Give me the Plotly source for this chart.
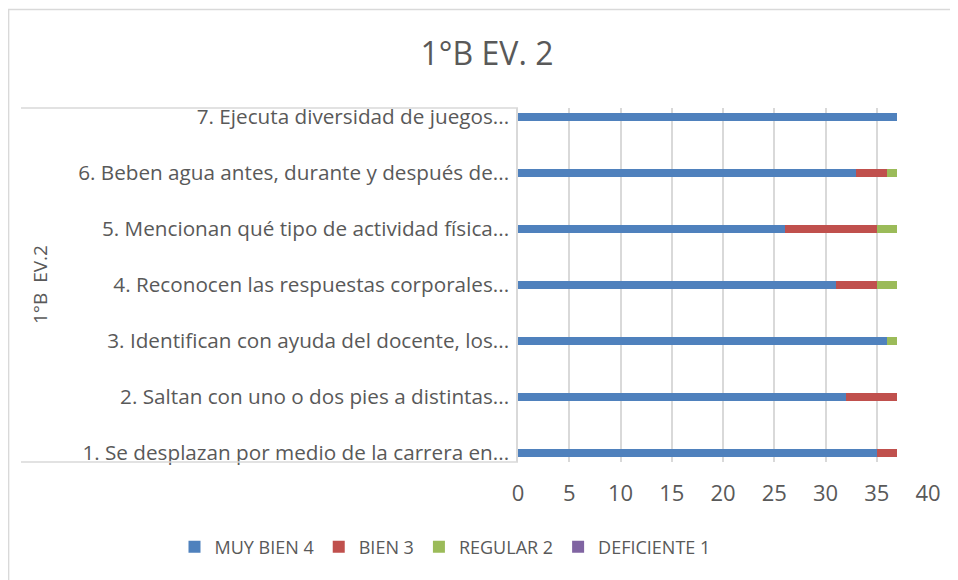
import plotly.graph_objects as go

categories = [
    "1. Se desplazan por medio de la carrera en...",
    "2. Saltan con uno o dos pies a distintas...",
    "3. Identifican con ayuda del docente, los...",
    "4. Reconocen las respuestas corporales...",
    "5. Mencionan qué tipo de actividad física...",
    "6. Beben agua antes, durante y después de...",
    "7. Ejecuta diversidad de juegos...",
]
muy_bien = [35, 32, 36, 31, 26, 33, 37]
bien = [2, 5, 0, 4, 9, 3, 0]
regular = [0, 0, 1, 2, 2, 1, 0]
deficiente = [0, 0, 0, 0, 0, 0, 0]

series_names = ["MUY BIEN 4", "BIEN 3", "REGULAR 2", "DEFICIENTE 1"]
series_values = [muy_bien, bien, regular, deficiente]
colors = ["#4F81BD", "#C0504D", "#9BBB59", "#8064A2"]

font_family = "'Open Sans', Lato, sans-serif"
grey = "#595959"
line_grey = "#D9D9D9"

# page body has an 8px margin, so the figure is drawn 8px smaller
W, H = 950, 572
plot_left, plot_right, plot_top, plot_bottom = 510, 920, 100, 454
pw = plot_right  # paper spans 0..plot_right (l=0)

fig = go.Figure()
for name, vals, col in zip(series_names, series_values, colors):
    fig.add_trace(go.Bar(
        y=categories, x=vals, name=name, orientation="h",
        marker=dict(color=col, line=dict(width=0)),
    ))

fig.update_layout(
    barmode="stack",
    bargap=0.86,
    width=W, height=H,
    margin=dict(l=0, r=W - plot_right, t=plot_top, b=H - plot_bottom, autoexpand=False),
    paper_bgcolor="white", plot_bgcolor="white",
    font=dict(family=font_family, color=grey, size=18),
    title=dict(text="1°B EV. 2", x=479 / W, xanchor="center",
               xref="container", yref="container",
               y=1 - 46 / H, yanchor="middle",
               font=dict(size=32, color=grey, family=font_family)),
    legend=dict(orientation="h", xref="container", yref="container",
                x=437 / W, xanchor="center", y=1 - 539 / H, yanchor="middle",
                font=dict(size=18, color=grey), itemwidth=30, traceorder="normal"),
    xaxis=dict(domain=[plot_left / pw, 1], range=[0, 40], dtick=5, showgrid=True,
               gridcolor=line_grey, gridwidth=1.5,
               zeroline=False, showline=False, ticks="", tickfont=dict(size=22, color=grey),
               fixedrange=True, automargin=False, ticklabelstandoff=16),
    yaxis=dict(categoryorder="array", categoryarray=categories, showgrid=False,
               range=[-0.16, 6.16],
               showline=True, linecolor=line_grey, linewidth=1.5, ticks="", ticklen=0,
               tickfont=dict(size=20.7, color=grey), automargin=False, ticklabelstandoff=3),
    showlegend=True,
)

fig.add_annotation(text="1°B  EV.2", xref="paper", yref="paper", x=32 / pw, y=0.5,
                   textangle=-90, showarrow=False, font=dict(size=19, color=grey),
                   xanchor="center", yanchor="middle")

# decorative multi-level category bracket lines and chart border
fig.add_shape(type="line", xref="paper", yref="paper", x0=13 / pw, x1=plot_left / pw, y0=1, y1=1,
              line=dict(color=line_grey, width=1.5))
fig.add_shape(type="line", xref="paper", yref="paper", x0=13 / pw, x1=plot_left / pw, y0=0, y1=0,
              line=dict(color=line_grey, width=1.5))
fig.add_shape(type="rect", xref="paper", yref="paper", x0=0.6 / pw, x1=1.2,
              y0=-0.5, y1=(plot_bottom - 1.5) / (plot_bottom - plot_top),
              line=dict(color=line_grey, width=1.5), layer="below")

fig.write_html("out.html")
